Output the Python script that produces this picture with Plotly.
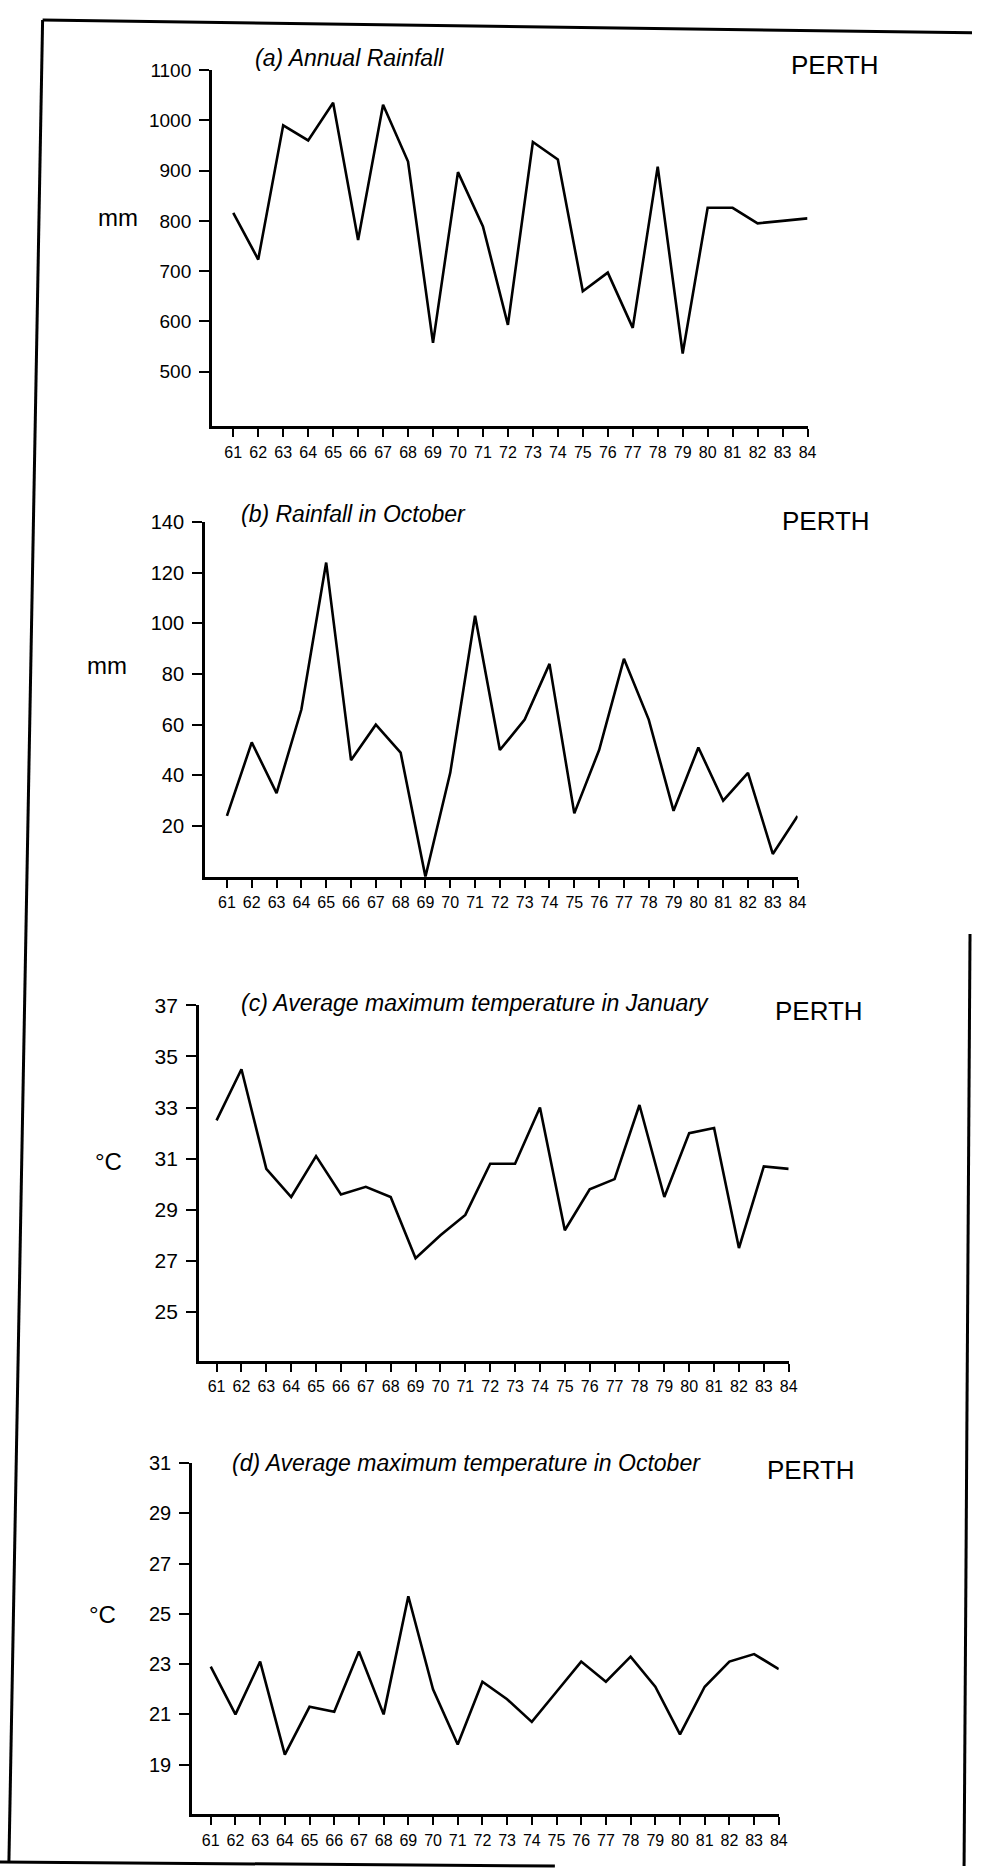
import plotly.graph_objects as go

# ---------------- data ----------------
years = list(range(61, 85))
year_labels = [str(y) for y in years]

annual_rain = [816, 723, 990, 960, 1035, 762, 1031, 918, 557, 897, 789, 593,
               957, 922, 660, 697, 587, 908, 536, 826, 826, 795, 800, 805]
oct_rain = [24, 53, 33, 66, 124, 46, 60, 49, 0, 41, 103, 50,
            62, 84, 25, 50, 86, 62, 26, 51, 30, 41, 9, 24]
jan_tmax = [32.5, 34.5, 30.6, 29.5, 31.1, 29.6, 29.9, 29.5, 27.1, 28.0, 28.8, 30.8,
            30.8, 33.0, 28.2, 29.8, 30.2, 33.1, 29.5, 32.0, 32.2, 27.5, 30.7, 30.6]
oct_tmax = [22.9, 21.0, 23.1, 19.4, 21.3, 21.1, 23.5, 21.0, 25.7, 22.0, 19.8, 22.3,
            21.6, 20.7, 21.9, 23.1, 22.3, 23.3, 22.1, 20.2, 22.1, 23.1, 23.4, 22.8]

titles = ["(a) Annual Rainfall", "(b) Rainfall in October",
          "(c) Average maximum temperature in January",
          "(d) Average maximum temperature in October"]
units = ["mm", "mm", "°C", "°C"]
place = "PERTH"
yticks_a = [500, 600, 700, 800, 900, 1000, 1100]
yticks_b = [20, 40, 60, 80, 100, 120, 140]
yticks_c = [25, 27, 29, 31, 33, 35, 37]
yticks_d = [19, 21, 23, 25, 27, 29, 31]

series = [annual_rain, oct_rain, jan_tmax, oct_tmax]
yticks = [yticks_a, yticks_b, yticks_c, yticks_d]

# ---------------- layout geometry (pixels) ----------------
W, H = 981, 1870
def fx(x):
    return x / W
def fy(y):
    return 1 - y / H

panels = [
    dict(x0=214, x1=815, y0=58.5, y1=417, xr=[60.15, 84], yr=[391, 1100],
         title=(255, 46), perth=(843, 53), unit=(97, 207), fs=19),
    dict(x0=207, x1=805, y0=513.3, y1=870.3, xr=[60.12, 84], yr=[0, 140],
         title=(241, 505), perth=(834, 512), unit=(86, 658), fs=20),
    dict(x0=201, x1=796, y0=999.8, y1=1358, xr=[60.3, 84], yr=[23.07, 37],
         title=(241, 997), perth=(827, 1005), unit=(94, 1157), fs=21),
    dict(x0=194, x1=786, y0=1460.5, y1=1814, xr=[60.25, 84], yr=[17.02, 31],
         title=(232, 1460), perth=(819, 1467), unit=(88, 1613), fs=20),
]

SANS = "Liberation Sans, Arial, Helvetica, sans-serif"

fig = go.Figure()
layout = dict(width=W, height=H, margin=dict(l=0, r=0, t=0, b=0),
              paper_bgcolor="white", plot_bgcolor="white", showlegend=False)
annotations = []

for i, (p, vals, yt) in enumerate(zip(panels, series, yticks)):
    n = "" if i == 0 else str(i + 1)
    fig.add_trace(go.Scatter(x=years, y=vals, mode="lines",
                             line=dict(color="black", width=2.6),
                             xaxis="x" + n, yaxis="y" + n, hoverinfo="x+y"))
    layout["xaxis" + n] = dict(
        domain=[fx(p["x0"]), fx(p["x1"])], range=p["xr"], anchor="y" + n,
        tickvals=years, ticktext=year_labels, ticks="outside", ticklen=8,
        tickwidth=2.2, tickcolor="black", showline=True, linewidth=3,
        linecolor="black", showgrid=False, zeroline=False,
        tickfont=dict(family=SANS, size=16, color="black"),
        ticklabelstandoff=1, fixedrange=True)
    layout["yaxis" + n] = dict(
        domain=[fy(p["y1"]), fy(p["y0"])], range=p["yr"], anchor="x" + n,
        tickvals=yt, ticks="outside", ticklen=10, tickwidth=2.2,
        tickcolor="black", showline=True, linewidth=3, linecolor="black",
        showgrid=False, zeroline=False,
        tickfont=dict(family=SANS, size=p["fs"], color="black"),
        ticklabelstandoff=4, fixedrange=True)
    annotations.append(dict(text="<i>" + titles[i] + "</i>", xref="paper", yref="paper",
                            x=fx(p["title"][0]), y=fy(p["title"][1]),
                            xanchor="left", yanchor="middle", showarrow=False,
                            font=dict(family=SANS, size=23, color="black")))
    annotations.append(dict(text=place, xref="paper", yref="paper",
                            x=fx(p["perth"][0]), y=fy(p["perth"][1]),
                            xanchor="center", yanchor="middle", showarrow=False,
                            font=dict(family=SANS, size=26, color="black")))
    annotations.append(dict(text=units[i], xref="paper", yref="paper",
                            x=fx(p["unit"][0]), y=fy(p["unit"][1]),
                            xanchor="left", yanchor="middle", showarrow=False,
                            font=dict(family=SANS, size=24, color="black")))

# page frame (scanned border)
frame = [((43, 8), (981, 21)), ((43, 8), (9, 1862)), ((0, 1862), (560, 1866)),
         ((979, 928), (973, 1866))]
shapes = []
for (xa, ya), (xb, yb) in frame:
    shapes.append(dict(type="line", xref="paper", yref="paper",
                       x0=fx(xa), y0=fy(ya), x1=fx(xb), y1=fy(yb),
                       line=dict(color="black", width=3)))

layout["annotations"] = annotations
layout["shapes"] = shapes
fig.update_layout(**layout)
fig.write_html("out.html", config={"displayModeBar": False},
               post_script="document.body.style.margin='0';document.body.style.overflow='hidden';")
